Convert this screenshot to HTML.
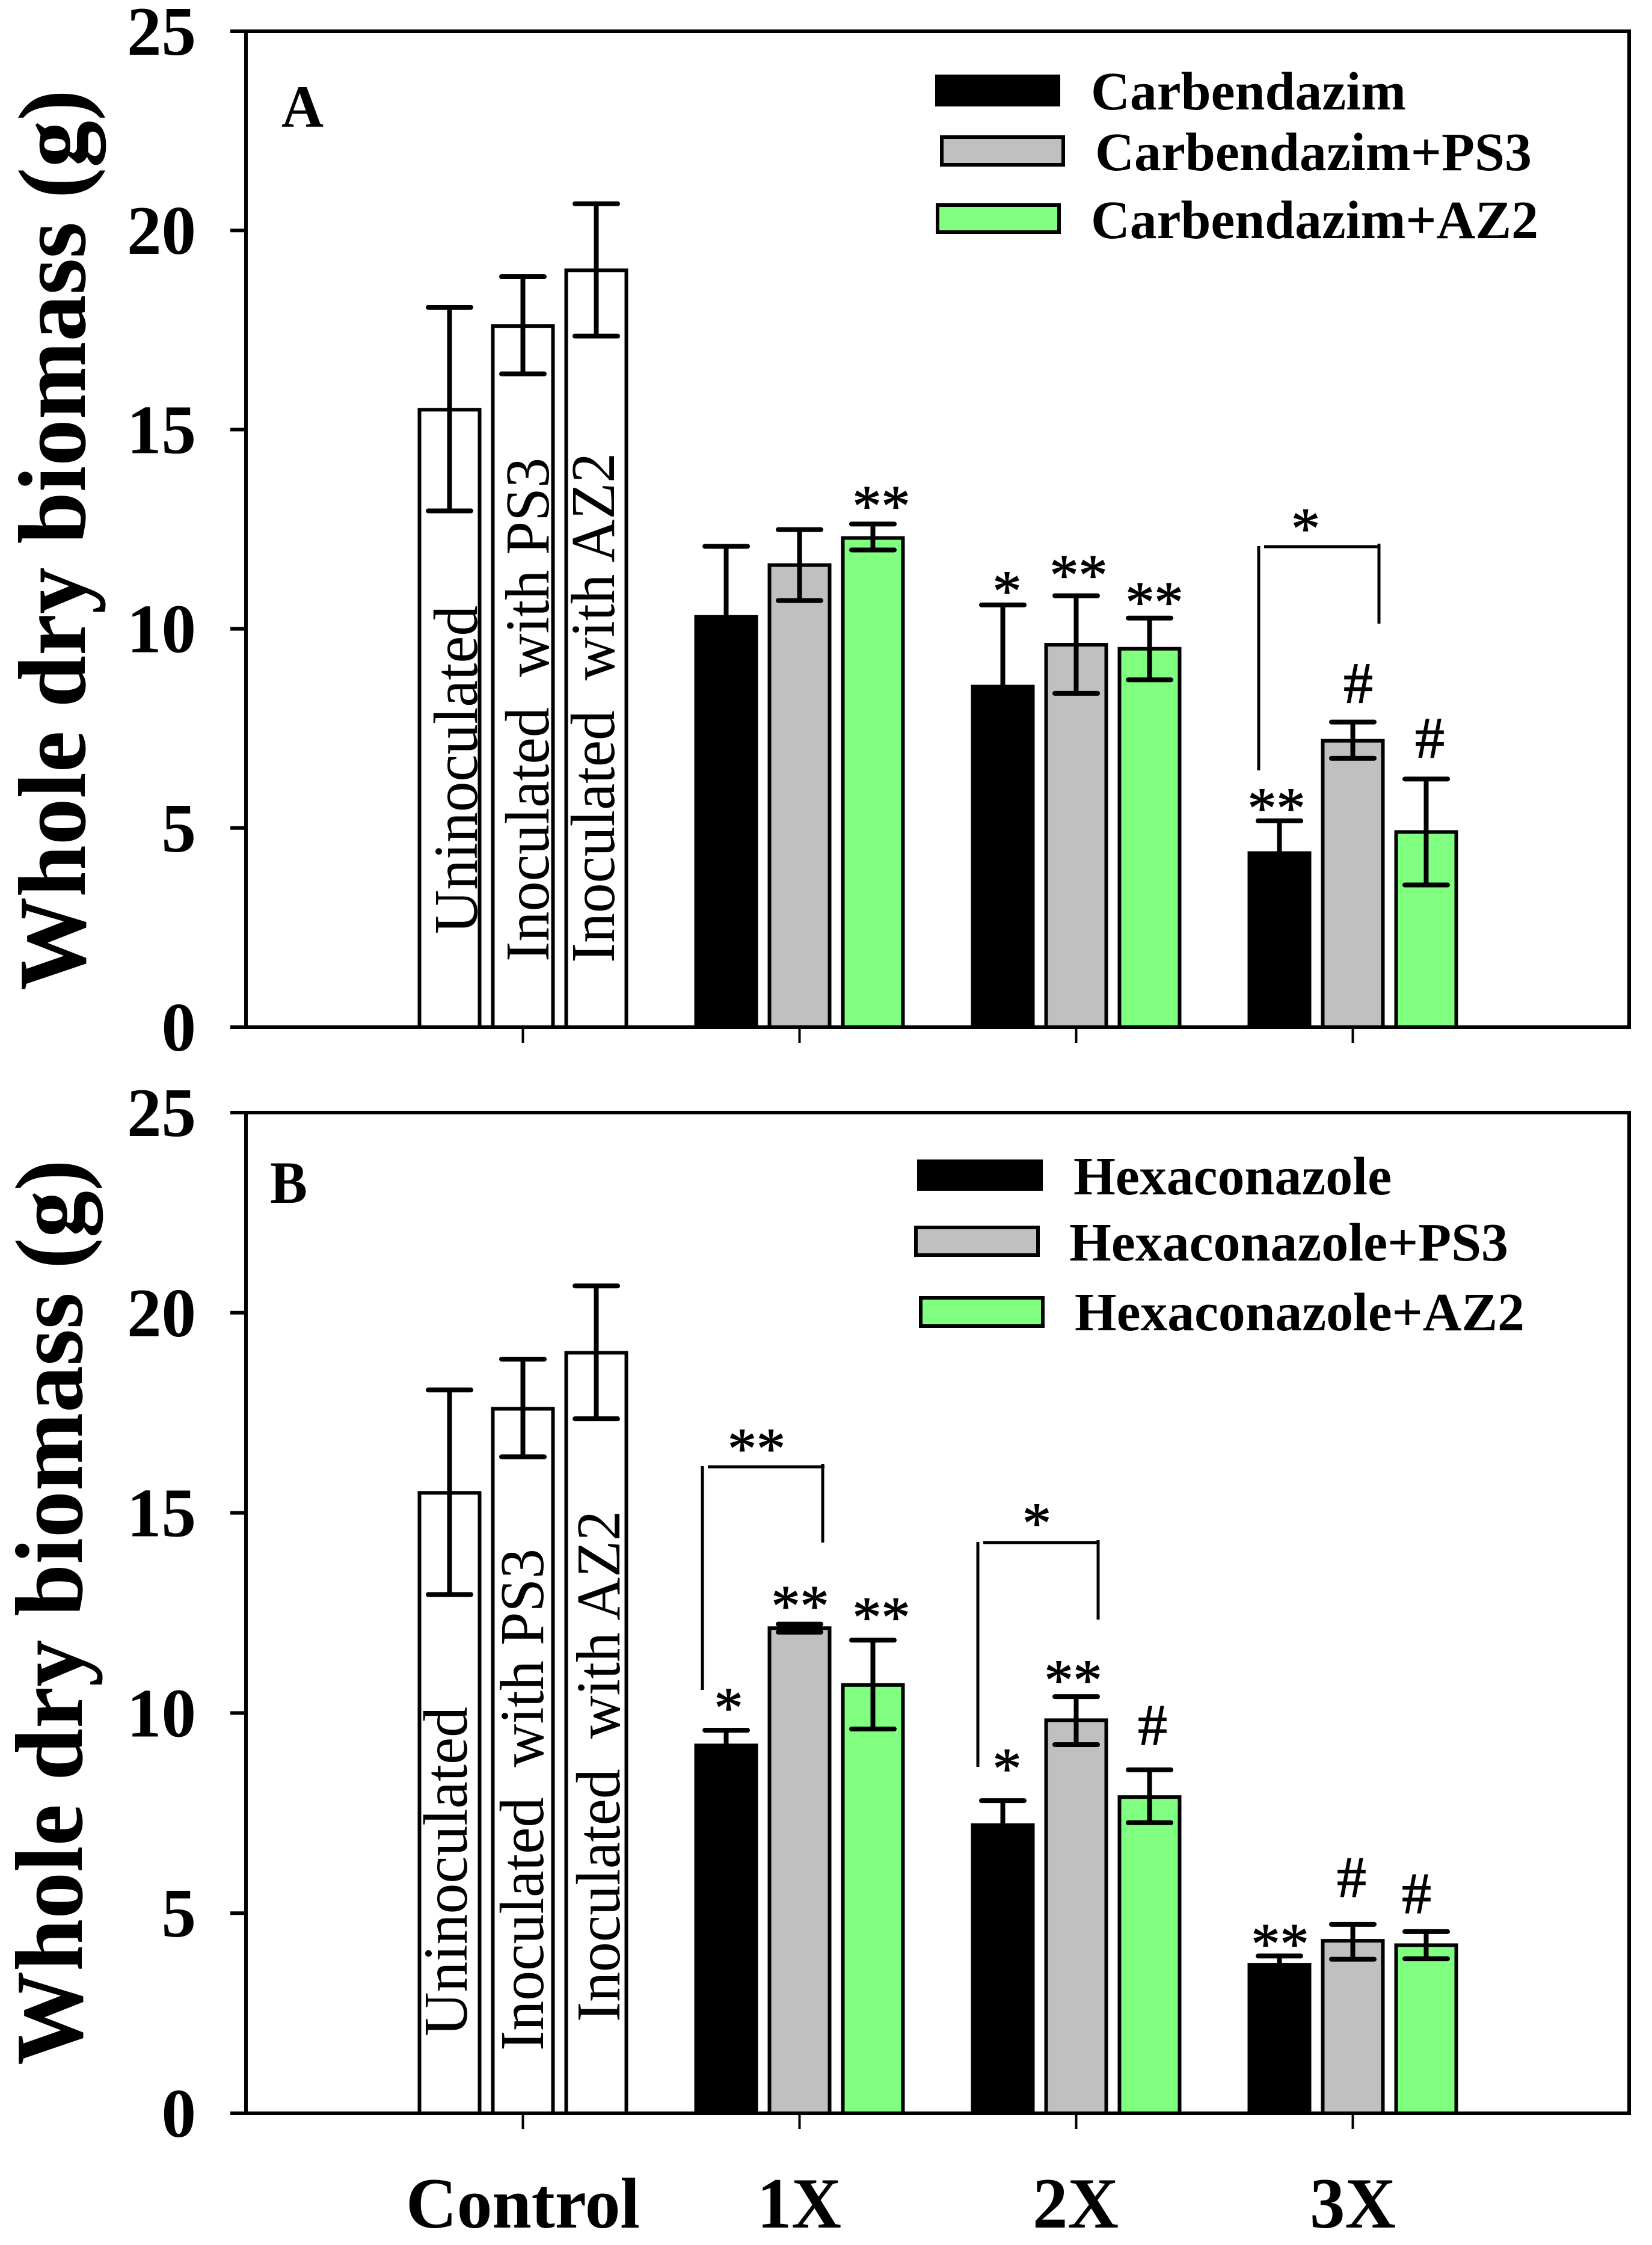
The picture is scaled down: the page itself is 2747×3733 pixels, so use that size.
<!DOCTYPE html>
<html lang="en">
<head>
<meta charset="utf-8">
<title>Whole dry biomass chart</title>
<style>
  html, body { margin: 0; padding: 0; background: #fff; }
  svg { display: block; }
  text { font-family: "Liberation Serif", serif; fill: #000; white-space: pre; }
  .b { font-weight: bold; }
  .axis { stroke: #000; stroke-width: 6; fill: none; }
  .bracket { stroke: #000; stroke-width: 5; fill: none; }
  .sig { stroke: #000; stroke-width: 1.2; }
</style>
</head>
<body>
<svg id="chart" xmlns="http://www.w3.org/2000/svg" width="2747" height="3733" viewBox="0 0 2747 3733">
  <rect x="0" y="0" width="2747" height="3733" fill="#fff"/>

  <!-- Panel A static -->
  <g>
    <g id="panelA-marks"></g>
    <text class="b" x="468" y="211" font-size="100" textLength="70" lengthAdjust="spacingAndGlyphs">A</text>
    <text class="b" transform="translate(141,1647) rotate(-90)" font-size="160" textLength="1498" lengthAdjust="spacingAndGlyphs">Whole dry biomass (g)</text>
    <text transform="translate(793,1553) rotate(-90)" font-size="104" textLength="546" lengthAdjust="spacingAndGlyphs">Uninoculated</text>
    <text transform="translate(912,1599) rotate(-90)" font-size="104" textLength="838" lengthAdjust="spacingAndGlyphs">Inoculated  with PS3</text>
    <text transform="translate(1021,1601) rotate(-90)" font-size="104" textLength="848" lengthAdjust="spacingAndGlyphs">Inoculated  with AZ2</text>

    <g>
      <rect x="1558" y="127" width="202" height="47" fill="#000" stroke="#000" stroke-width="6"/>
      <text class="b" x="1814" y="182" font-size="90" textLength="524" lengthAdjust="spacingAndGlyphs">Carbendazim</text>
      <rect x="1566" y="228" width="202" height="46" fill="#c0c0c0" stroke="#000" stroke-width="6"/>
      <text class="b" x="1821" y="283" font-size="90" textLength="726" lengthAdjust="spacingAndGlyphs">Carbendazim+PS3</text>
      <rect x="1559" y="341" width="202" height="45" fill="#80ff80" stroke="#000" stroke-width="6"/>
      <text class="b" x="1814" y="396" font-size="90" textLength="744" lengthAdjust="spacingAndGlyphs">Carbendazim+AZ2</text>
    </g>

    <g>
      <line class="bracket" x1="2093" y1="908" x2="2093" y2="1281"/>
      <line class="bracket" x1="2102" y1="909" x2="2294" y2="909"/>
      <line class="bracket" x1="2293" y1="904" x2="2293" y2="1037"/>
      <text class="sig" x="2171" y="911" font-size="96" text-anchor="middle">*</text>
    </g>
  </g>

  <!-- Panel B static -->
  <g>
    <g id="panelB-marks"></g>
    <text class="b" x="449" y="2000" font-size="100" textLength="62" lengthAdjust="spacingAndGlyphs">B</text>
    <text class="b" transform="translate(136,3434) rotate(-90)" font-size="160" textLength="1506" lengthAdjust="spacingAndGlyphs">Whole dry biomass (g)</text>
    <text transform="translate(776,3386) rotate(-90)" font-size="104" textLength="548" lengthAdjust="spacingAndGlyphs">Uninoculated</text>
    <text transform="translate(903,3410) rotate(-90)" font-size="104" textLength="835" lengthAdjust="spacingAndGlyphs">Inoculated  with PS3</text>
    <text transform="translate(1030,3362) rotate(-90)" font-size="104" textLength="850" lengthAdjust="spacingAndGlyphs">Inoculated  with AZ2</text>

    <g>
      <rect x="1528" y="1931" width="203" height="46" fill="#000" stroke="#000" stroke-width="6"/>
      <text class="b" x="1785" y="1986" font-size="90" textLength="529" lengthAdjust="spacingAndGlyphs">Hexaconazole</text>
      <rect x="1523" y="2041" width="203" height="46" fill="#c0c0c0" stroke="#000" stroke-width="6"/>
      <text class="b" x="1778" y="2096" font-size="90" textLength="730" lengthAdjust="spacingAndGlyphs">Hexaconazole+PS3</text>
      <rect x="1531" y="2158" width="203" height="47" fill="#80ff80" stroke="#000" stroke-width="6"/>
      <text class="b" x="1787" y="2212" font-size="90" textLength="748" lengthAdjust="spacingAndGlyphs">Hexaconazole+AZ2</text>
    </g>

    <g>
      <line class="bracket" x1="1168" y1="2438" x2="1168" y2="2810"/>
      <line class="bracket" x1="1177" y1="2439" x2="1371" y2="2439"/>
      <line class="bracket" x1="1368" y1="2434" x2="1368" y2="2565"/>
      <text class="sig" x="1258" y="2441" font-size="96" text-anchor="middle">**</text>
    </g>
    <g>
      <line class="bracket" x1="1626" y1="2564" x2="1626" y2="2938"/>
      <line class="bracket" x1="1635" y1="2565" x2="1828" y2="2565"/>
      <line class="bracket" x1="1826" y1="2561" x2="1826" y2="2693"/>
      <text class="sig" x="1724" y="2565" font-size="96" text-anchor="middle">*</text>
    </g>
  </g>

  <g id="x-labels">
    <text class="b" x="675" y="3704" font-size="120" textLength="389" lengthAdjust="spacingAndGlyphs">Control</text>
    <text class="b" x="1259" y="3704" font-size="120" textLength="140" lengthAdjust="spacingAndGlyphs">1X</text>
    <text class="b" x="1717" y="3704" font-size="120" textLength="143" lengthAdjust="spacingAndGlyphs">2X</text>
    <text class="b" x="2178" y="3704" font-size="120" textLength="143" lengthAdjust="spacingAndGlyphs">3X</text>
  </g>
</svg>

<script>
// ---------- data ----------
const groups = ['Control', '1X', '2X', '3X'];
const seriesNames = ['base', 'ps3', 'az2'];
const yTicks = [0, 5, 10, 15, 20, 25];

const panelAMeans = [
  [15.5, 17.6, 19.0],
  [10.3, 11.6, 12.28],
  [8.55, 9.6, 9.5],
  [4.37, 7.19, 4.9]
];
const panelAUpper = [
  [18.07, 18.84, 20.67],
  [12.07, 12.49, 12.63],
  [10.6, 10.83, 10.27],
  [5.18, 7.66, 6.23]
];
const panelALower = [
  [12.96, 16.4, 17.35],
  [8.6, 10.71, 11.98],
  [6.6, 8.38, 8.72],
  [3.64, 6.75, 3.57]
];
const panelASignificance = [
  ['', '', ''],
  ['', '', '**'],
  ['*', '**', '**'],
  ['**', '#', '#']
];

const panelBMeans = [
  [15.5, 17.6, 19.0],
  [9.19, 12.12, 10.7],
  [7.2, 9.82, 7.9],
  [3.71, 4.31, 4.2]
];
const panelBUpper = [
  [18.07, 18.84, 20.67],
  [9.57, 12.22, 11.82],
  [7.81, 10.41, 8.58],
  [3.93, 4.72, 4.54]
];
const panelBLower = [
  [12.96, 16.4, 17.35],
  [8.9, 12.02, 9.6],
  [6.67, 9.21, 7.26],
  [3.57, 3.85, 3.86]
];
const panelBSignificance = [
  ['', '', ''],
  ['*', '**', '**'],
  ['*', '**', '#'],
  ['**', '#', '#']
];

// ---------- scales and helpers ----------
const NS = 'http://www.w3.org/2000/svg';
function xScale(g, s) { return 869.5 + 460 * g + (s - 1) * 122; }
function yScaleFor(y0, y25) { return function (v) { return y0 + (y25 - y0) * v / 25; }; }
function fillFor(g, s) {
  if (g === 0) return '#fff';
  return ['#000', '#c0c0c0', '#80ff80'][s];
}
function mk(tag, attrs, parent) {
  const el = document.createElementNS(NS, tag);
  for (const k in attrs) el.setAttribute(k, attrs[k]);
  parent.appendChild(el);
  return el;
}

function drawPanel(prefix, root, yS, means, upper, lower, signif, sigOffsets) {
  const axisLeft = 409, axisRight = 2709;
  const yTop = yS(25), yBottom = yS(0);

  // bars
  for (let g = 0; g < groups.length; g++) {
    for (let s = 0; s < seriesNames.length; s++) {
      const cx = xScale(g, s);
      const top = yS(means[g][s]);
      const bar = mk('rect', { x: cx - 50, y: top, width: 100, height: yBottom - top, fill: fillFor(g, s), stroke: '#000', 'stroke-width': 6 }, root);
      
      
    }
  }

  // error bars
  for (let g = 0; g < groups.length; g++) {
    for (let s = 0; s < seriesNames.length; s++) {
      const cx = xScale(g, s);
      const yU = yS(upper[g][s]);
      const yL = yS(lower[g][s]);
      const stem = mk('line', { x1: cx, x2: cx, y1: yU, y2: yL, stroke: '#000', 'stroke-width': 8 }, root);
      
      
      const capU = mk('line', { x1: cx - 35.5, x2: cx + 35.5, y1: yU, y2: yU, stroke: '#000', 'stroke-width': 8, 'stroke-linecap': 'round' }, root);
      
      
      const capL = mk('line', { x1: cx - 35.5, x2: cx + 35.5, y1: yL, y2: yL, stroke: '#000', 'stroke-width': 8, 'stroke-linecap': 'round' }, root);
      
      
    }
  }

  // significance marks, anchored above the upper error cap
  for (let i = 0; i < sigOffsets.length; i++) {
    const o = sigOffsets[i];
    const label = signif[o.g][o.s];
    if (!label) continue;
    const isHash = label === '#';
    const fs = isHash ? 98 : 96;
    const base = yS(upper[o.g][o.s]) - o.gap + (isHash ? 32 : 45);
    const t = mk('text', { x: xScale(o.g, o.s) + o.dx, y: base, 'font-size': fs, 'text-anchor': 'middle', class: 'sig' }, root);
    t.textContent = label;
    
    
  }

  // axes frame
  const frame = [
    [axisLeft, yTop - 3, axisLeft, yBottom + 3, 'left-axis-line', 6],
    [axisRight, yTop - 2, axisRight, yBottom + 3, 'right-axis-line', 6],
    [383, yTop, axisRight + 3, yTop, 'top-axis-line', 6],
    [383, yBottom, axisRight + 3, yBottom, 'bottom-axis-line', 6]
  ];
  frame.forEach(function (f) {
    const ln = mk('line', { x1: f[0], y1: f[1], x2: f[2], y2: f[3], stroke: '#000', 'stroke-width': f[5] }, root);
    
    
  });

  // y ticks and labels
  yTicks.forEach(function (v) {
    const y = yS(v);
    const tick = mk('line', { x1: 383, x2: axisLeft, y1: y, y2: y, stroke: '#000', 'stroke-width': 6 }, root);
    
    
    const label = mk('text', { x: 326, y: y + 39, 'font-size': 115, 'text-anchor': 'end', 'font-weight': 'bold' }, root);
    label.textContent = String(v);
    
    
  });

  // x ticks
  groups.forEach(function (name, g) {
    const x = xScale(g, 1);
    const tick = mk('line', { x1: x, x2: x, y1: yBottom + 3, y2: yBottom + 26, stroke: '#000', 'stroke-width': 4 }, root);
    
    
  });
}

drawPanel('a', document.getElementById('panelA-marks'), yScaleFor(1708, 52),
  panelAMeans, panelAUpper, panelALower, panelASignificance,
  [
    { g: 1, s: 2, dx: 14, gap: 43 },
    { g: 2, s: 0, dx: 7, gap: 36 },
    { g: 2, s: 1, dx: 4, gap: 47 },
    { g: 2, s: 2, dx: 8, gap: 39 },
    { g: 3, s: 0, dx: -5, gap: 34 },
    { g: 3, s: 1, dx: 9, gap: 64 },
    { g: 3, s: 2, dx: 6, gap: 68 }
  ]);

drawPanel('b', document.getElementById('panelB-marks'), yScaleFor(3514, 1850),
  panelBMeans, panelBUpper, panelBLower, panelBSignificance,
  [
    { g: 1, s: 0, dx: 4, gap: 50 },
    { g: 1, s: 1, dx: 1, gap: 43 },
    { g: 1, s: 2, dx: 14, gap: 51 },
    { g: 2, s: 0, dx: 7, gap: 66 },
    { g: 2, s: 1, dx: -5, gap: 40 },
    { g: 2, s: 2, dx: 5, gap: 74 },
    { g: 3, s: 0, dx: 1, gap: 33 },
    { g: 3, s: 1, dx: -2, gap: 78 },
    { g: 3, s: 2, dx: -16, gap: 63 }
  ]);
</script>
</body>
</html>
